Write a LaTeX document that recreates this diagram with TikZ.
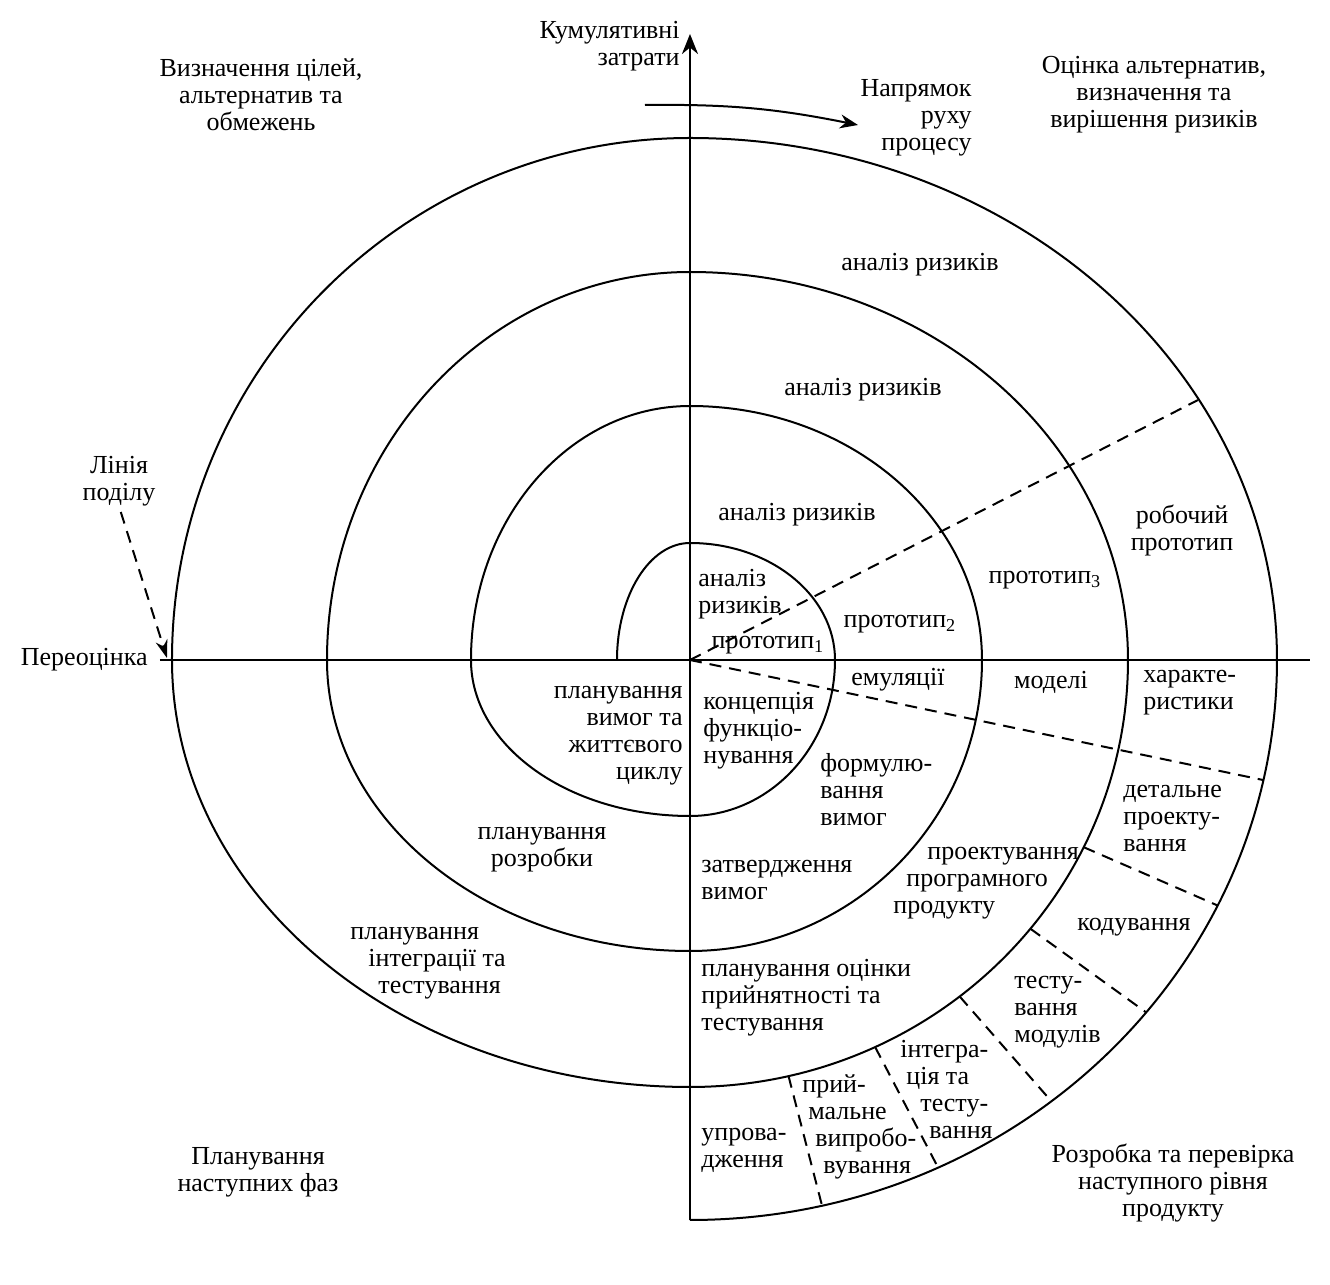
\documentclass[tikz,border=0pt]{standalone}
\usepackage{fontspec}
\setmainfont{Liberation Serif}
\usetikzlibrary{arrows.meta}

\begin{document}
\begin{tikzpicture}[x=1pt, y=1pt, scale=0.5,
    lbl/.style={font=\fontsize{13}{13.5}\selectfont, inner sep=0pt, align=center},
    turn/.style={line width=1pt},
    axis/.style={line width=1.4pt},
    divline/.style={line width=1pt, dash pattern=on 6pt off 4pt}]
  \useasboundingbox (-690,-625) rectangle (640,660);

  % Axes
  \coordinate (O) at (0,0);
  \draw[axis, -{Stealth[length=10pt, width=8pt]}] (0,-560) -- (0,626) coordinate (top);
  \draw[axis] (-530,0) coordinate (west) -- (620,0) coordinate (east);

  % Spiral, one quarter turn per step
  \draw[turn] (-73,0)
    \foreach \s/\a/\b in {180/73/117, 90/145/117, 0/145/156, -90/219/156,
                          180/219/254, 90/292/254, 0/292/291, -90/363/291,
                          180/363/388, 90/438/388, 0/438/427, -90/518/427,
                          180/518/522, 90/587/522, 0/587/560}
    { arc[start angle=\s, delta angle=-90, x radius=\a, y radius=\b] };

  % Dividing lines
  \coordinate (upend) at (508,260);
  \coordinate (lowend) at (573,-120);
  \draw[divline] (O) -- (upend);
  \draw[divline] (O) -- (lowend);
  \foreach \t in {-26,-39,-52,-65,-77}
    \draw[divline] (\t:438 and 427) -- (\t:587 and 560);

  % Quadrant titles
  \node[lbl, anchor=east, align=right] (kumul) at (-10,614) {Кумулятивні\\затрати};
  \node[lbl] (goals) at (-429,565) {Визначення цілей,\\альтернатив та\\обмежень};
  \node[lbl, anchor=east, align=right] (direction) at (282,542) {Напрямок\\руху\\процесу};
  \node[lbl] (evaluate) at (464,565) {Оцінка альтернатив,\\визначення та\\вирішення ризиків};
  \node[lbl] (develop) at (483,-523) {Розробка та перевірка\\наступного рівня\\продукту};
  \node[lbl] (nextplan) at (-432,-512) {Планування\\наступних фаз};
  \node[lbl, anchor=east] (reeval) at (-542,0) {Переоцінка};
  \node[lbl] (liniya) at (-571,179) {Лінія\\поділу};

  % Direction and dividing line arrows
  \coordinate (dirA) at (-45,555);
  \coordinate (dirB) at (168,535);
  \draw[turn, -{Stealth[length=9pt, width=7pt]}] (dirA) to[bend left=6] (dirB);
  \coordinate (redo) at (-523,2);
  \draw[divline, -{Stealth[length=9pt, width=6pt]}, shorten <=3pt] (liniya.south) -- (redo);

  % Risk analysis and prototypes
  \node[lbl] (risk1) at (230,395) {аналіз ризиків};
  \node[lbl] (risk2) at (173,270) {аналіз ризиків};
  \node[lbl] (risk3) at (107,145) {аналіз ризиків};
  \node[lbl, anchor=west, align=left] (risk0) at (8,66) {аналіз\\ризиків};
  \node[lbl] (proto1) at (78,15) {прототип\textsubscript{1}};
  \node[lbl] (proto2) at (210,36) {прототип\textsubscript{2}};
  \node[lbl] (proto3) at (355,80) {прототип\textsubscript{3}};
  \node[lbl] (proto4) at (492,130) {робочий\\прототип};
  \node[lbl] (emul) at (208,-20) {емуляції};
  \node[lbl] (models) at (361,-22) {моделі};
  \node[lbl, anchor=west, align=left] (bench) at (453,-33) {характе-\\ристики};

  % Planning and development
  \node[lbl, anchor=east, align=right] (lifecycle) at (-7,-76) {планування\\вимог та\\життєвого\\циклу};
  \node[lbl, anchor=west, align=left] (concept) at (13,-71) {концепція\\функціо-\\нування};
  \node[lbl, anchor=west, align=left] (reqs) at (130,-130) {формулю-\\вання\\вимог};
  \node[lbl] (devplan) at (-148,-190) {планування\\розробки};
  \node[lbl, anchor=west, align=left] (valid) at (11,-220) {затвердження\\вимог};
  \node[lbl, anchor=west, align=left] (design) at (203,-223)
    {\hspace*{17pt}проектування\\\hspace*{6.5pt}програмного\\продукту};
  \node[lbl, anchor=west, align=left] (detail) at (433,-159) {детальне\\проекту-\\вання};
  \node[lbl, anchor=west, align=left] (acceptplan) at (11,-338)
    {планування оцінки\\прийнятності та\\тестування};
  \node[lbl, anchor=west, align=left] (integplan) at (-340,-303)
    {планування\\\hspace*{9pt}інтеграції та\\\hspace*{14pt}тестування};
  \node[lbl] (code) at (444,-267) {кодування};
  \node[lbl, anchor=west, align=left] (unittest) at (324,-352) {тесту-\\вання\\модулів};
  \node[lbl, anchor=west, align=left] (integtest) at (210,-430)
    {інтегра-\\\hspace*{3pt}ція та\\\hspace*{10pt}тесту-\\\hspace*{14.5pt}вання};
  \node[lbl, anchor=west, align=left] (accept) at (112,-467)
    {прий-\\\hspace*{3pt}мальне\\\hspace*{6.5pt}випробо-\\\hspace*{10.5pt}вування};
  \node[lbl, anchor=west, align=left] (deploy) at (11,-490) {упрова-\\дження};

\end{tikzpicture}
\end{document}
